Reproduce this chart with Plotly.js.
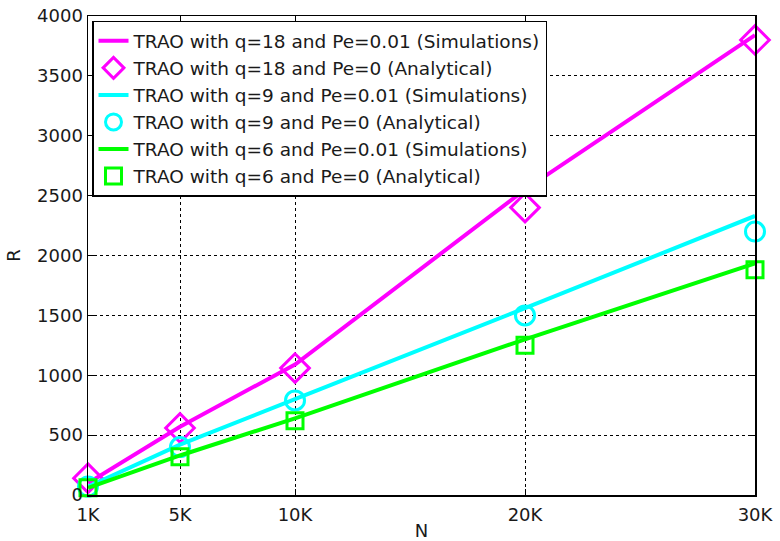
<!DOCTYPE html>
<html>
<head>
<meta charset="utf-8">
<script src="https://cdn.plot.ly/plotly-3.0.1.min.js"></script>
<style>html,body{margin:0;padding:0;background:#fff;}#chart{width:780px;height:541px;}</style>
</head>
<body>
<div id="chart"></div>
<script>
var N = [1000, 5000, 10000, 20000, 30000];
var tickLabels = ['1K', '5K', '10K', '20K', '30K'];
var sim18 = [100, 570, 1090, 2550, 3840];
var ana18 = [140, 560, 1060, 2400, 3800];
var sim9 = [70, 420, 800, 1560, 2330];
var ana9 = [70, 400, 790, 1500, 2200];
var sim6 = [60, 330, 640, 1300, 1935];
var ana6 = [60, 320, 620, 1250, 1880];
var names = [
  'TRAO with q=18 and Pe=0.01 (Simulations)',
  'TRAO with q=18 and Pe=0 (Analytical)',
  'TRAO with q=9 and Pe=0.01 (Simulations)',
  'TRAO with q=9 and Pe=0 (Analytical)',
  'TRAO with q=6 and Pe=0.01 (Simulations)',
  'TRAO with q=6 and Pe=0 (Analytical)'
];
var magenta = '#ff00ff', cyan = '#00ffff', green = '#00ff00';

function lineTrace(y, name, color) {
  return {x: N, y: y, name: name, type: 'scatter', mode: 'lines',
    line: {color: color, width: 4}, cliponaxis: false};
}
function markTrace(y, name, color, symbol, size) {
  return {x: N, y: y, name: name, type: 'scatter', mode: 'markers',
    marker: {symbol: symbol, size: size, color: color, line: {color: color, width: 3}},
    cliponaxis: false};
}
var data = [
  lineTrace(sim18, names[0], magenta),
  markTrace(ana18, names[1], magenta, 'diamond-open', 22),
  lineTrace(sim9, names[2], cyan),
  markTrace(ana9, names[3], cyan, 'circle-open', 19),
  lineTrace(sim6, names[4], green),
  markTrace(ana6, names[5], green, 'square-open', 16)
];
var fontFam = 'DejaVu Sans, Liberation Sans, Arial, sans-serif';
var txt = '#1a1a1a';
var layout = {
  width: 780, height: 541,
  margin: {l: 88, r: 25, t: 16, b: 46},
  paper_bgcolor: '#fff', plot_bgcolor: '#fff',
  font: {family: fontFam, size: 18, color: txt},
  showlegend: true,
  legend: {x: 0.006, y: 0.99, xanchor: 'left', yanchor: 'top',
    bgcolor: '#fff', bordercolor: '#000', borderwidth: 1.5,
    font: {family: fontFam, size: 18.5, color: txt}, itemwidth: 30, tracegroupgap: 0},
  xaxis: {
    range: [1000, 30000], tickvals: N, ticktext: tickLabels,
    showline: true, mirror: 'ticks', linecolor: '#000', linewidth: 1.5,
    ticks: 'inside', ticklen: 6, tickcolor: '#000', ticklabelstandoff: 3,
    showgrid: true, gridcolor: '#000', griddash: 'dot', gridwidth: 1,
    zeroline: false,
    title: {text: 'N', font: {family: fontFam, size: 18, color: txt}, standoff: 2}
  },
  yaxis: {
    range: [0, 4000], dtick: 500,
    showline: true, mirror: 'ticks', linecolor: '#000', linewidth: 1.5,
    ticks: 'inside', ticklen: 6, tickcolor: '#000',
    showgrid: true, gridcolor: '#000', griddash: 'dot', gridwidth: 1,
    zeroline: false,
    title: {text: 'R', font: {family: fontFam, size: 18, color: txt}, standoff: 12}
  }
};
Plotly.newPlot('chart', data, layout, {displayModeBar: false, staticPlot: true});
</script>
</body>
</html>
